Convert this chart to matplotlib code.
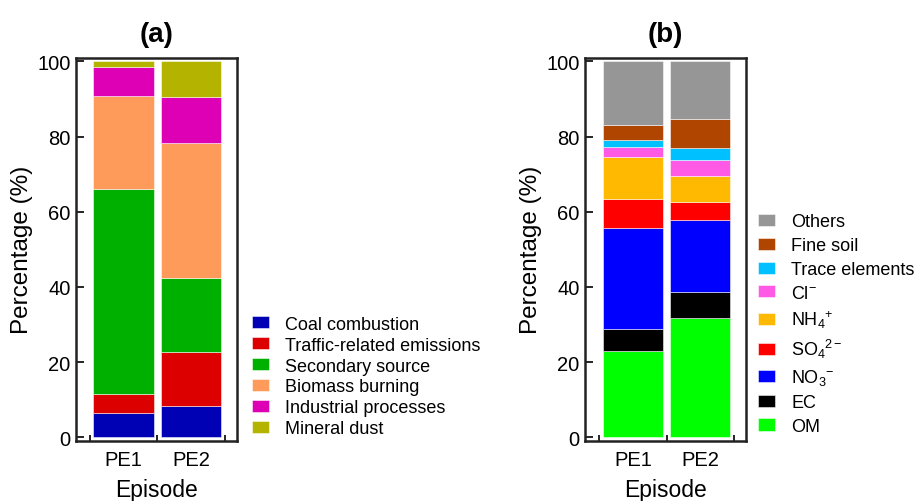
import matplotlib
matplotlib.use("Agg")
import matplotlib.pyplot as plt
import numpy as np

plt.rcParams['font.family'] = ['Liberation Sans', 'DejaVu Sans']
plt.rcParams['mathtext.fontset'] = 'custom'
plt.rcParams['mathtext.rm'] = 'Liberation Sans'
plt.rcParams['mathtext.it'] = 'Liberation Sans'
plt.rcParams['mathtext.bf'] = 'Liberation Sans:bold'

# 数据
episodes = ["PE1", "PE2"]

source_names = ["Coal combustion", "Traffic-related emissions", "Secondary source",
                "Biomass burning", "Industrial processes", "Mineral dust"]
coal = [6.4, 8.4]
traffic = [5.1, 14.2]
secondary = [54.5, 19.9]
biomass = [24.7, 35.9]
industrial = [7.8, 12.1]
mineral = [1.5, 9.5]
source_colors = ["#0000b4", "#dd0000", "#00b000", "#ff9b5a", "#dd00b4", "#b4b400"]

species_names = ["OM", "EC", r"NO$_3$$^{-}$", r"SO$_4$$^{2-}$", r"NH$_4$$^{+}$",
                 r"Cl$^{-}$", "Trace elements", "Fine soil", "Others"]
om = [23.0, 31.8]
ec = [5.9, 6.9]
no3 = [26.8, 19.1]
so4 = [7.7, 4.7]
nh4 = [11.1, 7.1]
cl = [2.6, 4.2]
trace = [1.9, 3.1]
fine_soil = [4.1, 7.7]
others = [16.9, 15.4]
species_colors = ["#00ff00", "#000000", "#0000ff", "#ff0000", "#ffb900",
                  "#ff5ae6", "#00c0ff", "#b04500", "#969696"]


def draw_stack(ax, series, names, colors):
    x = np.arange(len(episodes))
    bottom = np.zeros(len(episodes))
    handles = []
    for vals, name, c in zip(series, names, colors):
        b = ax.bar(x, vals, width=0.9, bottom=bottom, color=c, label=name,
                   edgecolor=(1, 1, 1, 0.6), linewidth=0.6)
        handles.append(b)
        bottom += np.array(vals)
    ax.set_xlim(-0.71, 1.68)
    ax.set_ylim(-0.9, 100.9)
    ax.set_yticks([0, 20, 40, 60, 80, 100])
    ax.set_xticks(x)
    ax.set_xticklabels(episodes)
    ax.set_xticks([-0.5, 0.5, 1.5], minor=True)
    ax.tick_params(axis='x', which='major', length=0, pad=7, labelsize=14.5)
    ax.tick_params(axis='x', which='minor', direction='in', length=4, width=1.2)
    ax.tick_params(axis='y', direction='in', length=6, width=1.2, pad=4, labelsize=14.5)
    for s in ax.spines.values():
        s.set_linewidth(1.8)
        s.set_color("#222222")
    ax.set_xlabel("Episode", fontsize=16.5, labelpad=6)
    ax.set_ylabel("Percentage (%)", fontsize=17.5, labelpad=3)
    return handles


fig = plt.figure(figsize=(9.22, 5.02), dpi=100)
ax1 = fig.add_axes([0.0824, 0.120, 0.1746, 0.7625])
ax2 = fig.add_axes([0.6345, 0.120, 0.1746, 0.7625])

h1 = draw_stack(ax1, [coal, traffic, secondary, biomass, industrial, mineral],
                source_names, source_colors)
h2 = draw_stack(ax2, [om, ec, no3, so4, nh4, cl, trace, fine_soil, others],
                species_names, species_colors)

ax1.set_title("(a)", fontsize=20, fontweight='bold', pad=12)
ax2.set_title("(b)", fontsize=20, fontweight='bold', pad=12)

ax1.legend(handles=h1, loc='center left', bbox_to_anchor=(252 / 922, 1 - 377.5 / 502),
           bbox_transform=fig.transFigure, frameon=False, fontsize=13,
           handlelength=0.95, handleheight=0.65, handletextpad=0.9,
           labelspacing=0.22, borderpad=0, borderaxespad=0)
ax2.legend(handles=h2[::-1], loc='center left', bbox_to_anchor=(758 / 922, 1 - 325 / 502),
           bbox_transform=fig.transFigure, frameon=False, fontsize=13,
           handlelength=0.95, handleheight=0.65, handletextpad=0.9,
           labelspacing=0.38, borderpad=0, borderaxespad=0)

plt.savefig("out.png", dpi=100)
